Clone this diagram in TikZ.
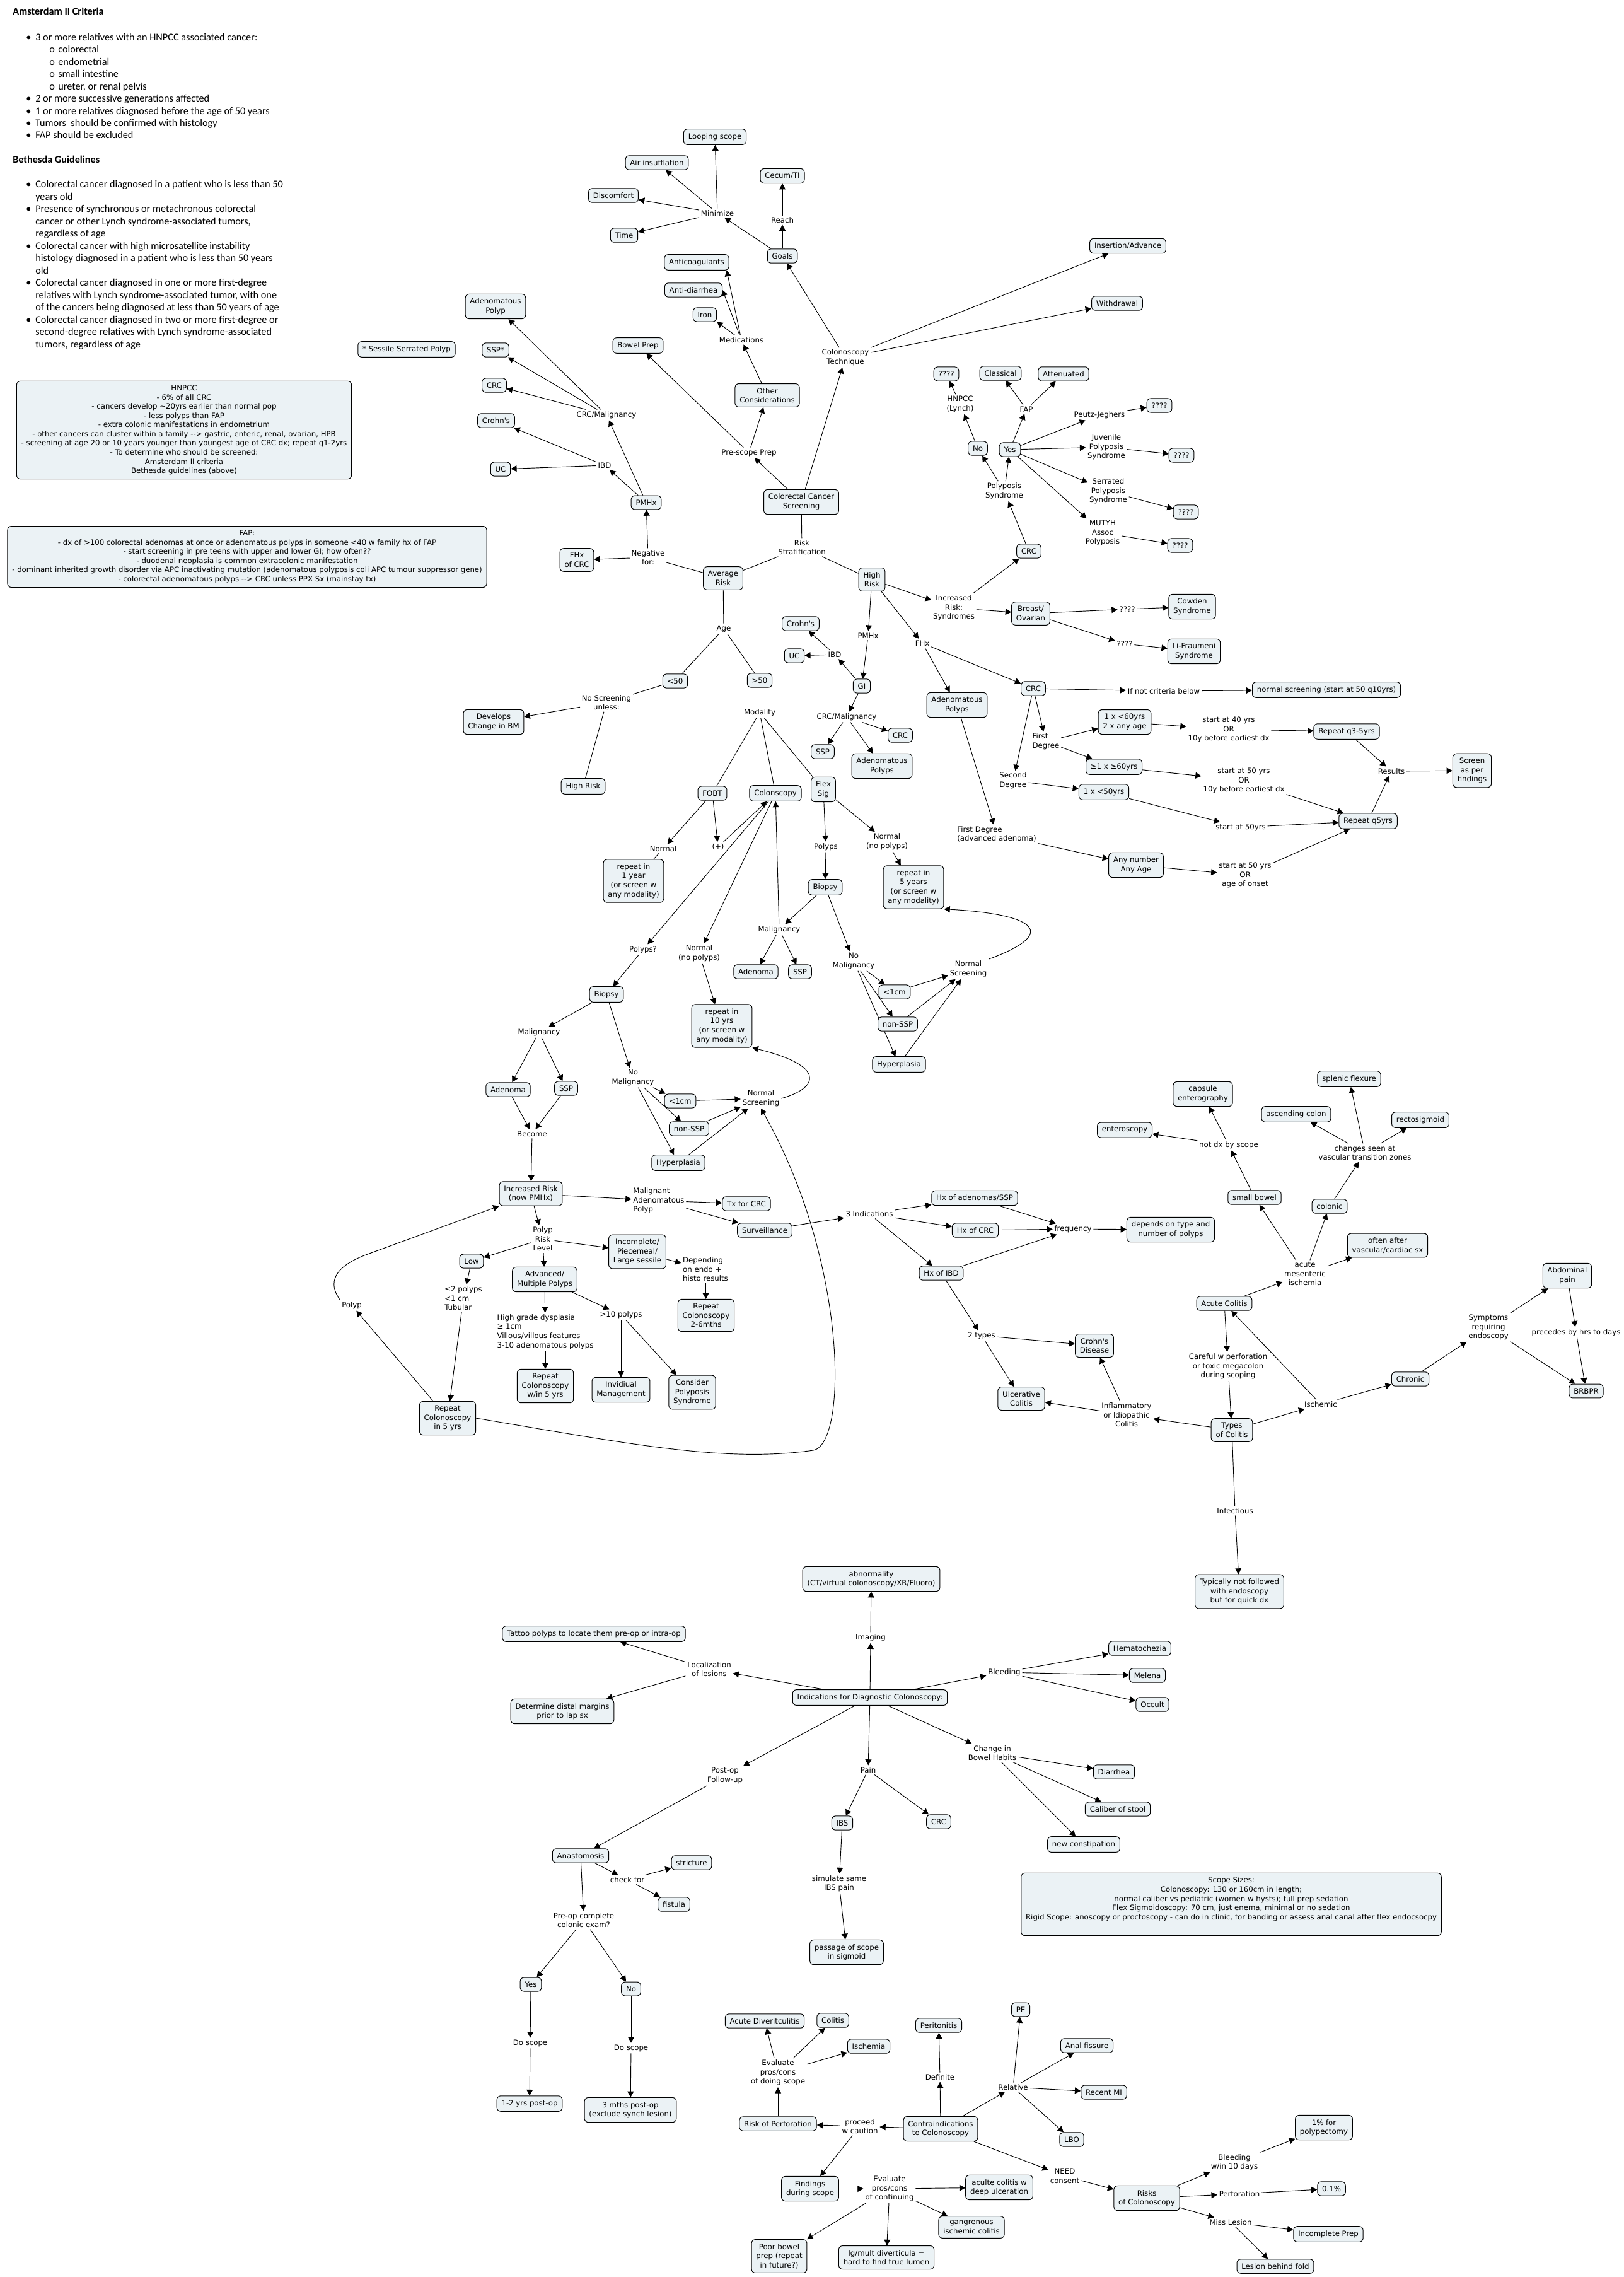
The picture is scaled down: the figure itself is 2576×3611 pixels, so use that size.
\documentclass[tikz,border=0pt]{standalone}
\usepackage{fontspec}
\usepackage{xcolor}
\usetikzlibrary{arrows.meta,positioning,backgrounds}
\newfontfamily\mapfont{DejaVu Sans}
\newfontfamily\docfont{Carlito}
\newcommand{\mapsize}{\fontsize{8.8pt}{10.9pt}\selectfont}
\newcommand{\docsize}{\fontsize{12.2pt}{14.6pt}\selectfont}
\newcommand{\blt}{\hspace*{15.75pt}\makebox[11.25pt][l]{\textbullet}}
\newcommand{\sblt}{\hspace*{43.5pt}\makebox[10.5pt][l]{o}}
\newcommand{\cnt}{\hspace*{27pt}}
\definecolor{cmapfill}{RGB}{235,242,245}
\tikzset{
  concept/.style={draw, line width=0.75pt, rounded corners=4.5pt, fill=cmapfill, align=center, inner xsep=5.5pt, inner ysep=5pt, font=\mapfont\mapsize},
  lbl/.style={align=center, inner sep=2pt, font=\mapfont\mapsize},
  lbll/.style={lbl, align=left},
  arr/.style={line width=0.7pt, -{Triangle[length=7pt,width=7.5pt]}},
  ln/.style={line width=0.7pt},
  doc/.style={align=left, inner sep=0pt, font=\docfont\docsize}
}
\begin{document}
\begin{tikzpicture}[x=0.75pt, y=-0.75pt]
    \useasboundingbox (0,0) rectangle (2576,3611);

    \node[doc, anchor=north west] (crit) at (20,12) {%
    \textbf{Amsterdam II Criteria}\\[15.8pt]
    \blt 3 or more relatives with an HNPCC associated cancer:\\
    \sblt colorectal\\
    \sblt endometrial\\
    \sblt small intestine\\
    \sblt ureter, or renal pelvis\\
    \blt 2 or more successive generations affected\\
    \blt 1 or more relatives diagnosed before the age of 50 years\\
    \blt Tumors\ \ should be confirmed with histology\\
    \blt FAP should be excluded\\[14.65pt]
    \textbf{Bethesda Guidelines}\\[14.65pt]
    \blt Colorectal cancer diagnosed in a patient who is less than 50\\
    \cnt years old\\
    \blt Presence of synchronous or metachronous colorectal\\
    \cnt cancer or other Lynch syndrome-associated tumors,\\
    \cnt regardless of age\\
    \blt Colorectal cancer with high microsatellite instability\\
    \cnt histology diagnosed in a patient who is less than 50 years\\
    \cnt old\\
    \blt Colorectal cancer diagnosed in one or more first-degree\\
    \cnt relatives with Lynch syndrome-associated tumor, with one\\
    \cnt of the cancers being diagnosed at less than 50 years of age\\
    \blt Colorectal cancer diagnosed in two or more first-degree or\\
    \cnt second-degree relatives with Lynch syndrome-associated\\
    \cnt tumors, regardless of age};

    \node[concept] (ssnote) at (645,554) {* Sessile Serrated Polyp};
    \node[concept] (hnpcc) at (292,682) {HNPCC\\- 6\% of all CRC\\- cancers develop \textasciitilde20yrs earlier than normal pop\\- less polyps than FAP\\- extra colonic manifestations in endometrium\\- other cancers can cluster within a family -{}-> gastric, enteric, renal, ovarian, HPB\\- screening at age 20 or 10 years younger than youngest age of CRC dx; repeat q1-2yrs\\- To determine who should be screened:\\Amsterdam II criteria\\Bethesda guidelines (above)};
    \node[concept] (fap) at (392,883) {FAP:\\- dx of >100 colorectal adenomas at once or adenomatous polyps in someone <40 w family hx of FAP\\- start screening in pre teens with upper and lower GI; how often??\\- duodenal neoplasia is common extracolonic manifestation\\- dominant inherited growth disorder via APC inactivating mutation (adenomatous polyposis coli APC tumour suppressor gene)\\- colorectal adenomatous polyps -{}-> CRC unless PPX Sx (mainstay tx)};
    \node[concept] (scope) at (1953,3020) {Scope Sizes:\\Colonoscopy: 130 or 160cm in length;\\normal caliber vs pediatric (women w hysts); full prep sedation\\Flex Sigmoidoscopy: 70 cm, just enema, minimal or no sedation\\Rigid Scope: anoscopy or proctoscopy - can do in clinic, for banding or assess anal canal after flex endocsocpy\\ \strut};

    \node[concept] (adpolyp1) at (786,486) {Adenomatous\\Polyp};
    \node[concept] (ssp1) at (786,555) {SSP*};
    \node[concept] (crc1) at (784,611) {CRC};
    \node[concept] (crohn1) at (787,667) {Crohn's};
    \node[concept] (uc1) at (794,744) {UC};
    \node[lbl] (crcmal1) at (962,658) {CRC/Malignancy};
    \node[lbl] (ibd1) at (959,738) {IBD};
    \node[concept] (pmhx) at (1025,797) {PMHx};
    \node[lbl] (neg) at (1028,884) {Negative\\for:};
    \node[concept] (fhxcrc) at (915,888) {FHx\\of CRC};

    \node[concept] (loop) at (1134,217) {Looping scope};
    \node[concept] (air) at (1042,258) {Air insufflation};
    \node[concept] (discomf) at (973,310) {Discomfort};
    \node[concept] (timebox) at (990,373) {Time};
    \node[lbl] (minim) at (1138,338) {Minimize};
    \node[concept] (cecum) at (1241,279) {Cecum/TI};
    \node[lbl] (reach) at (1241,349) {Reach};
    \node[concept] (goals) at (1241,406) {Goals};
    \node[concept] (insert) at (1789,390) {Insertion/Advance};
    \node[concept] (withdr) at (1772,481) {Withdrawal};
    \node[lbl] (tech) at (1341,567) {Colonoscopy\\Technique};
    \node[concept] (anticoag) at (1105,416) {Anticoagulants};
    \node[concept] (antidia) at (1100,460) {Anti-diarrhea};
    \node[concept] (iron) at (1118,499) {Iron};
    \node[lbl] (meds) at (1176,539) {Medications};
    \node[concept] (bowelprep) at (1012,548) {Bowel Prep};
    \node[concept] (other) at (1217,627) {Other\\Considerations};
    \node[lbl] (prescope) at (1188,718) {Pre-scope Prep};
    \node[concept] (crcs) at (1271,796) {Colorectal Cancer\\Screening};
    \node[lbl] (riskstrat) at (1272,868) {Risk\\Stratification};
    \node[concept] (avg) at (1147,917) {Average\\Risk};
    \node[concept] (high) at (1383,919) {High\\Risk};

    \node[concept] (q1) at (1501,593) {????};
    \node[lbl] (hnpcclbl) at (1523,641) {HNPCC\\(Lynch)};
    \node[concept] (classical) at (1587,592) {Classical};
    \node[concept] (attenuated) at (1687,593) {Attenuated};
    \node[lbl] (faplbl) at (1628,649) {FAP};
    \node[concept] (no1) at (1551,711) {No};
    \node[concept] (yes1) at (1602,713) {Yes};
    \node[lbl] (polysyn) at (1593,779) {Polyposis\\Syndrome};
    \node[concept] (crc4) at (1632,874) {CRC};
    \node[lbl] (pj) at (1744,658) {Peutz-Jeghers};
    \node[concept] (q4) at (1839,643) {????};
    \node[lbl] (jps) at (1755,709) {Juvenile\\Polyposis\\Syndrome};
    \node[concept] (q5) at (1874,722) {????};
    \node[lbl] (sps) at (1758,779) {Serrated\\Polyposis\\Syndrome};
    \node[concept] (q6) at (1881,812) {????};
    \node[lbl] (mutyh) at (1749,845) {MUTYH\\Assoc\\Polyposis};
    \node[concept] (q7) at (1872,865) {????};

    \node[lbl] (synd) at (1513,964) {Increased\\Risk:\\Syndromes};
    \node[concept] (breast) at (1635,973) {Breast/\\Ovarian};
    \node[lbl] (q2a) at (1788,966) {????};
    \node[concept] (cowden) at (1891,962) {Cowden\\Syndrome};
    \node[lbl] (q2b) at (1784,1021) {????};
    \node[concept] (lifr) at (1894,1033) {Li-Fraumeni\\Syndrome};
    \node[lbl] (hrpmhx) at (1377,1008) {PMHx};
    \node[concept] (crohn2) at (1270,989) {Crohn's};
    \node[concept] (uc2) at (1260,1040) {UC};
    \node[lbl] (ibd2) at (1324,1038) {IBD};
    \node[concept] (gi) at (1367,1088) {GI};
    \node[lbl] (crcmal2) at (1343,1137) {CRC/Malignancy};
    \node[concept] (ssp2) at (1305,1192) {SSP};
    \node[concept] (crc2) at (1428,1166) {CRC};
    \node[concept] (adp2) at (1399,1215) {Adenomatous\\Polyps};
    \node[lbl] (fhx) at (1463,1020) {FHx};
    \node[concept] (adp3) at (1518,1118) {Adenomatous\\Polyps};
    \node[concept] (crc3) at (1639,1092) {CRC};
    \node[lbl] (ifnot) at (1846,1096) {If not criteria below};
    \node[concept] (normscr) at (2104,1094) {normal screening (start at 50 q10yrs)};
    \node[lbll] (first) at (1659,1176) {First\\Degree};
    \node[concept] (lt60) at (1784,1145) {1 x <60yrs\\2 x any age};
    \node[lbl] (start40) at (1949,1157) {start at 40 yrs\\OR\\10y before earliest dx};
    \node[concept] (rep35) at (2136,1160) {Repeat q3-5yrs};
    \node[concept] (ge60) at (1767,1216) {≥1 x ≥60yrs};
    \node[lbl] (start50a) at (1973,1238) {start at 50 yrs\\OR\\10y before earliest dx};
    \node[lbll] (second) at (1607,1238) {Second\\Degree};
    \node[concept] (lt50b) at (1751,1256) {1 x <50yrs};
    \node[lbl] (results) at (2207,1223) {Results};
    \node[concept] (screen) at (2335,1222) {Screen\\as per\\findings};
    \node[concept] (rep5y) at (2170,1302) {Repeat q5yrs};
    \node[lbl] (start50b) at (1968,1312) {start at 50yrs};
    \node[lbll] (firstadv) at (1581,1323) {First Degree\\(advanced adenoma)};
    \node[concept] (anynum) at (1802,1372) {Any number\\Any Age};
    \node[lbl] (start50c) at (1975,1388) {start at 50 yrs\\OR\\age of onset};

    \node[lbl] (age) at (1148,997) {Age};
    \node[concept] (lt50) at (1071,1080) {<50};
    \node[concept] (gt50) at (1205,1079) {>50};
    \node[lbl] (noscr) at (962,1114) {No Screening\\unless:};
    \node[concept] (devbm) at (783,1145) {Develops\\Change in BM};
    \node[concept] (hrisk) at (925,1247) {High Risk};
    \node[lbl] (modality) at (1205,1130) {Modality};
    \node[concept] (fobt) at (1130,1258) {FOBT};
    \node[concept] (colon) at (1230,1258) {Colonscopy};
    \node[concept] (flex) at (1306,1252) {Flex\\Sig};
    \node[lbl] (normfobt) at (1052,1346) {Normal};
    \node[lbl] (plus) at (1139,1343) {(+)};
    \node[concept] (rep1) at (1005,1397) {repeat in\\1 year\\(or screen w\\any modality)};
    \node[lbl] (polypsf) at (1310,1343) {Polyps};
    \node[lbl] (normflex) at (1407,1335) {Normal\\(no polyps)};
    \node[concept] (rep5) at (1449,1407) {repeat in\\5 years\\(or screen w\\any modality)};
    \node[concept] (biopsyf) at (1309,1407) {Biopsy};
    \node[lbl] (malf) at (1236,1474) {Malignancy};
    \node[concept] (adenf) at (1199,1541) {Adenoma};
    \node[concept] (sspf) at (1269,1541) {SSP};
    \node[lbl] (nomalf) at (1354,1524) {No\\Malignancy};
    \node[concept] (lt1f) at (1419,1573) {<1cm};
    \node[concept] (nonsspf) at (1424,1624) {non-SSP};
    \node[concept] (hyperf) at (1426,1688) {Hyperplasia};
    \node[lbl] (nsf) at (1536,1537) {Normal\\Screening};
    \node[lbl] (polypsq) at (1020,1506) {Polyps?};
    \node[lbl] (normcol) at (1109,1512) {Normal\\(no polyps)};
    \node[concept] (rep10) at (1145,1627) {repeat in\\10 yrs\\(or screen w\\any modality)};
    \node[concept] (biopsyc) at (962,1577) {Biopsy};
    \node[lbl] (malc) at (855,1637) {Malignancy};
    \node[lbl] (nomalc) at (1004,1709) {No\\Malignancy};
    \node[concept] (adenc) at (806,1728) {Adenoma};
    \node[concept] (sspc) at (898,1726) {SSP};
    \node[lbl] (become) at (844,1798) {Become};
    \node[concept] (lt1c) at (1079,1746) {<1cm};
    \node[concept] (nonsspc) at (1093,1790) {non-SSP};
    \node[concept] (hyperc) at (1076,1844) {Hyperplasia};
    \node[lbl] (nsc) at (1207,1742) {Normal\\Screening};

    \node[concept] (incr) at (842,1893) {Increased Risk\\(now PMHx)};
    \node[lbll] (map) at (1045,1904) {Malignant\\Adenomatous\\Polyp};
    \node[concept] (txcrc) at (1184,1909) {Tx for CRC};
    \node[concept] (surv) at (1213,1951) {Surveillance};
    \node[lbl] (threeind) at (1379,1925) {3 Indications};
    \node[lbl] (prl) at (861,1965) {Polyp\\Risk\\Level};
    \node[concept] (low) at (748,2000) {Low};
    \node[concept] (adv) at (864,2029) {Advanced/\\Multiple Polyps};
    \node[concept] (incomp) at (1011,1985) {Incomplete/\\Piecemeal/\\Large sessile};
    \node[lbll] (depend) at (1119,2013) {Depending\\on endo +\\histo results};
    \node[concept] (rc26) at (1120,2086) {Repeat\\Colonoscopy\\2-6mths};
    \node[lbll] (le2) at (735,2059) {≤2 polyps\\<1 cm\\Tubular};
    \node[lbll] (hgd) at (865,2112) {High grade dysplasia\\≥ 1cm\\Villous/villous features\\3-10 adenomatous polyps};
    \node[lbl] (gt10) at (985,2085) {>10 polyps};
    \node[concept] (rcw5) at (865,2198) {Repeat\\Colonoscopy\\w/in 5 yrs};
    \node[concept] (indiv) at (985,2204) {Invidiual\\Management};
    \node[concept] (consider) at (1098,2208) {Consider\\Polyposis\\Syndrome};
    \node[concept] (rc5) at (710,2249) {Repeat\\Colonoscopy\\in 5 yrs};
    \node[lbl] (polyplbl) at (558,2070) {Polyp};

    \node[concept] (hxad) at (1546,1900) {Hx of adenomas/SSP};
    \node[concept] (hxcrc) at (1547,1951) {Hx of CRC};
    \node[concept] (hxibd) at (1493,2019) {Hx of IBD};
    \node[lbl] (freq) at (1702,1949) {frequency};
    \node[concept] (depends) at (1857,1950) {depends on type and\\number of polyps};
    \node[lbl] (twotypes) at (1557,2118) {2 types};
    \node[concept] (crohnd) at (1736,2134) {Crohn's\\Disease};
    \node[concept] (ucol) at (1620,2218) {Ulcerative\\Colitis};
    \node[lbl] (inflam) at (1787,2244) {Inflammatory\\or Idiopathic\\Colitis};
    \node[concept] (types) at (1954,2268) {Types\\of Colitis};
    \node[lbl] (infect) at (1959,2396) {Infectious};
    \node[concept] (typically) at (1966,2524) {Typically not followed\\with endoscopy\\but for quick dx};
    \node[lbl] (careful) at (1948,2167) {Careful w perforation\\or toxic megacolon\\during scoping};
    \node[concept] (acute) at (1942,2067) {Acute Colitis};
    \node[lbl] (ischemic) at (2095,2227) {Ischemic};
    \node[concept] (chronic) at (2237,2187) {Chronic};
    \node[lbl] (symptoms) at (2361,2105) {Symptoms\\requiring\\endoscopy};
    \node[concept] (abdpain) at (2486,2023) {Abdominal\\pain};
    \node[lbl] (precedes) at (2500,2113) {precedes by hrs to days};
    \node[concept] (brbpr) at (2516,2206) {BRBPR};
    \node[lbl] (ami) at (2070,2020) {acute\\mesenteric\\ischemia};
    \node[concept] (often) at (2201,1975) {often after\\vascular/cardiac sx};
    \node[concept] (smallb) at (1990,1899) {small bowel};
    \node[concept] (colonic) at (2109,1913) {colonic};
    \node[lbl] (notdx) at (1949,1816) {not dx by scope};
    \node[concept] (entero) at (1784,1792) {enteroscopy};
    \node[concept] (capsule) at (1908,1735) {capsule\\enterography};
    \node[lbl] (changes) at (2165,1828) {changes seen at\\vascular transition zones};
    \node[concept] (ascend) at (2056,1767) {ascending colon};
    \node[concept] (splenic) at (2140,1711) {splenic flexure};
    \node[concept] (rectosig) at (2253,1776) {rectosigmoid};

    \node[concept] (abnorm) at (1382,2504) {abnormality\\(CT/virtual colonoscopy/XR/Fluoro)};
    \node[lbl] (imaging) at (1381,2597) {Imaging};
    \node[concept] (indic) at (1380,2692) {Indications for Diagnostic Colonoscopy:};
    \node[concept] (tattoo) at (942,2591) {Tattoo polyps to locate them pre-op or intra-op};
    \node[lbl] (local) at (1125,2647) {Localization\\of lesions};
    \node[concept] (determine) at (892,2714) {Determine distal margins\\prior to lap sx};
    \node[lbl] (bleeding) at (1593,2652) {Bleeding};
    \node[concept] (hemat) at (1808,2614) {Hematochezia};
    \node[concept] (melena) at (1820,2657) {Melena};
    \node[concept] (occult) at (1828,2703) {Occult};
    \node[lbl] (change) at (1574,2780) {Change in\\Bowel Habits};
    \node[concept] (diarrhea) at (1767,2810) {Diarrhea};
    \node[concept] (caliber) at (1773,2869) {Caliber of stool};
    \node[concept] (newcon) at (1719,2925) {new constipation};
    \node[lbl] (pain) at (1377,2807) {Pain};
    \node[concept] (ibs) at (1336,2891) {IBS};
    \node[concept] (crcpain) at (1489,2889) {CRC};
    \node[lbl] (simulate) at (1331,2987) {simulate same\\IBS pain};
    \node[concept] (passage) at (1343,3096) {passage of scope\\in sigmoid};
    \node[lbl] (postop) at (1150,2816) {Post-op\\Follow-up};
    \node[concept] (anast) at (921,2943) {Anastomosis};
    \node[lbl] (checkfor) at (995,2981) {check for};
    \node[concept] (stricture) at (1097,2954) {stricture};
    \node[concept] (fistula) at (1069,3020) {fistula};
    \node[lbl] (preop) at (926,3045) {Pre-op complete\\colonic exam?};
    \node[concept] (yes2) at (842,3147) {Yes};
    \node[concept] (no2) at (1001,3154) {No};
    \node[lbl] (doscope1) at (841,3240) {Do scope};
    \node[lbl] (doscope2) at (1001,3248) {Do scope};
    \node[concept] (post12) at (840,3336) {1-2 yrs post-op};
    \node[concept] (mths3) at (1000,3346) {3 mths post-op\\(exclude synch lesion)};

    \node[concept] (acutediv) at (1213,3205) {Acute Diveritculitis};
    \node[concept] (colitis) at (1321,3204) {Colitis};
    \node[concept] (ischemia) at (1378,3245) {Ischemia};
    \node[lbl] (evaldoing) at (1234,3287) {Evaluate\\pros/cons\\of doing scope};
    \node[concept] (peritonitis) at (1489,3212) {Peritonitis};
    \node[lbl] (definite) at (1491,3294) {Definite};
    \node[concept] (pe) at (1619,3187) {PE};
    \node[concept] (analf) at (1724,3244) {Anal fissure};
    \node[lbl] (relative) at (1607,3310) {Relative};
    \node[concept] (recentmi) at (1751,3318) {Recent MI};
    \node[concept] (lbo) at (1700,3393) {LBO};
    \node[concept] (contra) at (1492,3376) {Contraindications\\to Colonoscopy};
    \node[lbl] (proceed) at (1364,3372) {proceed\\w caution};
    \node[concept] (riskperf) at (1234,3368) {Risk of Perforation};
    \node[concept] (findings) at (1285,3471) {Findings\\during scope};
    \node[lbl] (evalcont) at (1411,3471) {Evaluate\\pros/cons\\of continuing};
    \node[concept] (aculte) at (1585,3469) {aculte colitis w\\deep ulceration};
    \node[concept] (gangr) at (1541,3532) {gangrenous\\ischemic colitis};
    \node[concept] (poorprep) at (1236,3578) {Poor bowel\\prep (repeat\\in future?)};
    \node[concept] (lgmult) at (1406,3580) {lg/mult diverticula =\\hard to find true lumen};
    \node[lbl] (consent) at (1689,3451) {NEED\\consent};
    \node[concept] (risks) at (1819,3486) {Risks\\of Colonoscopy};
    \node[lbl] (bleed10) at (1958,3429) {Bleeding\\w/in 10 days};
    \node[concept] (pct1) at (2100,3374) {1\% for\\polypectomy};
    \node[lbl] (perf) at (1966,3479) {Perforation};
    \node[concept] (pct01) at (2112,3471) {0.1\%};
    \node[lbl] (miss) at (1952,3524) {Miss Lesion};
    \node[concept] (incprep) at (2107,3543) {Incomplete Prep};
    \node[concept] (behind) at (2023,3594) {Lesion behind fold};

    \begin{scope}[on background layer]
    \draw[ln] (avg) -- (neg);
    \draw[arr] (neg) -- (fhxcrc);
    \draw[arr] (neg) -- (pmhx);
    \draw[arr] (pmhx) -- (ibd1);
    \draw[arr] (pmhx) -- (crcmal1);
    \foreach \t in {uc1,crohn1}
        \draw[arr] (ibd1) -- (\t);
    \foreach \t in {crc1,ssp1,adpolyp1}
        \draw[arr] (crcmal1) -- (\t);

    \draw[arr] (crcs) -- (prescope);
    \draw[arr] (crcs) -- (tech);
    \draw[arr] (prescope) -- (bowelprep);
    \draw[arr] (prescope) -- (other);
    \draw[arr] (other) -- (meds);
    \draw[arr] (meds) -- (iron.south east);
    \draw[arr] (meds) -- (antidia.east);
    \draw[arr] (meds) -- ([xshift=-3pt]anticoag.south east);
    \foreach \t in {goals,insert,withdr}
        \draw[arr] (tech) -- (\t);
    \draw[arr] (goals) -- (minim);
    \draw[arr] (goals) -- (reach);
    \draw[arr] (reach) -- (cecum);
    \foreach \t in {loop,air,discomf,timebox}
        \draw[arr] (minim) -- (\t);
    \draw[ln] (crcs) -- (riskstrat);
    \draw[ln] (riskstrat) -- (avg);
    \draw[ln] (riskstrat) -- (high);

    \draw[arr] (high) -- (hrpmhx);
    \draw[arr] (hrpmhx) -- (gi);
    \draw[arr] (gi) -- (ibd2);
    \draw[arr] (ibd2) -- (uc2);
    \draw[arr] (ibd2) -- (crohn2);
    \draw[arr] (gi) -- (crcmal2);
    \foreach \t in {ssp2,adp2,crc2}
        \draw[arr] (crcmal2) -- (\t);
    \draw[arr] (high) -- (fhx);
    \draw[arr] (fhx) -- (adp3);
    \draw[arr] (fhx) -- (crc3);
    \draw[arr] (high) -- (synd);
    \draw[arr] (synd) -- (breast);
    \draw[arr] (synd) -- (crc4);
    \draw[arr] (breast) -- (q2a);
    \draw[arr] (q2a) -- (cowden);
    \draw[arr] (breast) -- (q2b);
    \draw[arr] (q2b) -- (lifr);
    \draw[arr] (crc4) -- (polysyn);
    \draw[arr] (polysyn) -- (no1);
    \draw[arr] (polysyn) -- (yes1);
    \draw[arr] (no1) -- (hnpcclbl);
    \draw[arr] (hnpcclbl) -- (q1);
    \draw[arr] (yes1) -- (faplbl);
    \draw[arr] (faplbl) -- (classical);
    \draw[arr] (faplbl) -- (attenuated);
    \foreach \l/\q in {pj/q4,jps/q5,sps/q6,mutyh/q7} {
        \draw[arr] (yes1) -- (\l);
        \draw[arr] (\l) -- (\q);
    }

    \draw[arr] (crc3) -- (ifnot);
    \draw[arr] (ifnot) -- (normscr);
    \draw[arr] (crc3) -- (first);
    \draw[arr] (crc3) -- (second);
    \draw[arr] (first) -- (lt60);
    \draw[arr] (first) -- (ge60);
    \draw[arr] (lt60) -- (start40);
    \draw[arr] (start40) -- (rep35);
    \draw[arr] (rep35) -- (results);
    \draw[arr] (ge60) -- (start50a);
    \draw[arr] (start50a) -- (rep5y);
    \draw[arr] (second) -- (lt50b);
    \draw[arr] (lt50b) -- (start50b);
    \draw[arr] (start50b) -- (rep5y);
    \draw[arr] (adp3) -- (firstadv);
    \draw[arr] (firstadv) -- (anynum);
    \draw[arr] (anynum) -- (start50c);
    \draw[arr] (start50c) -- (rep5y);
    \draw[arr] (rep5y) -- (results);
    \draw[arr] (results) -- (screen);

    \draw[ln] (avg) -- (age);
    \draw[ln] (age) -- (lt50);
    \draw[ln] (age) -- (gt50);
    \draw[ln] (lt50) -- (noscr);
    \draw[arr] (noscr) -- (devbm);
    \draw[ln] (noscr) -- (hrisk);
    \draw[ln] (gt50) -- (modality);
    \foreach \t in {fobt,colon,flex}
        \draw[ln] (modality) -- (\t);
    \draw[arr] (fobt) -- (normfobt);
    \draw[ln] (normfobt) -- (rep1);
    \draw[arr] (fobt) -- (plus);
    \draw[arr] (plus) -- (colon);
    \draw[arr] (flex) -- (polypsf);
    \draw[arr] (polypsf) -- (biopsyf);
    \draw[arr] (flex) -- (normflex);
    \draw[arr] (normflex) -- (rep5);
    \draw[arr] (biopsyf) -- (malf);
    \draw[arr] (biopsyf) -- (nomalf);
    \draw[arr] (malf) -- (adenf);
    \draw[arr] (malf) -- (sspf);
    \draw[arr] (malf) -- (colon);
    \foreach \t in {lt1f,nonsspf,hyperf} {
        \draw[arr] (nomalf) -- (\t);
        \draw[arr] (\t) -- (nsf);
    }
    \draw[arr] (nsf.north east) .. controls (1680,1480) and (1645,1450) .. (rep5.south east);
    \draw[arr] (colon) -- (polypsq);
    \draw[arr] (colon) -- (normcol);
    \draw[arr] (normcol) -- (rep10);
    \draw[arr] (polypsq) -- (biopsyc);
    \draw[arr] (biopsyc) -- (malc);
    \draw[arr] (biopsyc) -- (nomalc);
    \draw[arr] (malc) -- (adenc);
    \draw[arr] (malc) -- (sspc);
    \draw[arr] (adenc) -- (become);
    \draw[arr] (sspc) -- (become);
    \draw[arr] (become) -- (incr);
    \foreach \t in {lt1c,nonsspc,hyperc} {
        \draw[arr] (nomalc) -- (\t);
        \draw[arr] (\t) -- (nsc);
    }
    \draw[arr] (nsc.east) .. controls (1300,1725) and (1310,1690) .. (rep10.south east);

    \draw[arr] (incr) -- (map);
    \draw[arr] (map) -- (txcrc);
    \draw[arr] (map) -- (surv);
    \draw[arr] (surv) -- (threeind);
    \foreach \t in {hxad,hxcrc,hxibd} {
        \draw[arr] (threeind) -- (\t);
        \draw[arr] (\t) -- (freq);
    }
    \draw[arr] (freq) -- (depends);
    \draw[arr] (incr) -- (prl);
    \foreach \t in {low,adv,incomp}
        \draw[arr] (prl) -- (\t);
    \draw[arr] (incomp) -- (depend);
    \draw[arr] (depend) -- (rc26);
    \draw[arr] (low) -- (le2);
    \draw[arr] (le2) -- (rc5);
    \draw[arr] (adv) -- (hgd);
    \draw[arr] (hgd) -- (rcw5);
    \draw[arr] (adv) -- (gt10);
    \draw[arr] (gt10) -- (indiv);
    \draw[arr] (gt10) -- (consider);
    \draw[arr] (rc5) -- (polyplbl);
    \draw[arr] (polyplbl.north west) .. controls (520,2035) and (528,2009) .. (583,1989) -- (incr.south west);
    \draw[arr] (rc5.east) .. controls (1000,2290) and (1150,2320) .. (1290,2300) .. controls (1345,2290) and (1345,2000) .. (nsc.south);

    \draw[arr] (hxibd) -- (twotypes);
    \draw[arr] (twotypes) -- (crohnd);
    \draw[arr] (twotypes) -- (ucol);
    \draw[arr] (types) -- (inflam);
    \draw[arr] (inflam) -- (ucol);
    \draw[arr] (inflam) -- (crohnd);
    \draw[ln] (types) -- (infect);
    \draw[arr] (infect) -- (typically);
    \draw[arr] (types) -- (ischemic);
    \draw[arr] (ischemic) -- (acute);
    \draw[arr] (ischemic) -- (chronic);
    \draw[arr] (acute) -- (careful);
    \draw[arr] (careful) -- (types);
    \draw[arr] (acute) -- (ami);
    \foreach \t in {often,smallb,colonic}
        \draw[arr] (ami) -- (\t);
    \draw[arr] (smallb) -- (notdx);
    \draw[arr] (notdx) -- (entero);
    \draw[arr] (notdx) -- (capsule);
    \draw[arr] (colonic) -- (changes);
    \foreach \t in {ascend,splenic,rectosig}
        \draw[arr] (changes) -- (\t);
    \draw[arr] (chronic) -- (symptoms);
    \draw[arr] (symptoms) -- (abdpain);
    \draw[arr] (symptoms) -- (brbpr);
    \draw[arr] (abdpain) -- (precedes);
    \draw[arr] (precedes) -- (brbpr);

    \foreach \t in {imaging,local,bleeding,change,pain,postop}
        \draw[arr] (indic) -- (\t);
    \draw[arr] (imaging) -- (abnorm);
    \draw[arr] (local) -- (tattoo);
    \draw[arr] (local) -- (determine);
    \foreach \t in {hemat,melena,occult}
        \draw[arr] (bleeding) -- (\t);
    \foreach \t in {diarrhea,caliber,newcon}
        \draw[arr] (change) -- (\t);
    \draw[arr] (pain) -- (ibs);
    \draw[arr] (pain) -- (crcpain);
    \draw[arr] (ibs) -- (simulate);
    \draw[arr] (simulate) -- (passage);
    \draw[arr] (postop) -- (anast);
    \draw[arr] (anast) -- (checkfor);
    \draw[arr] (checkfor) -- (stricture);
    \draw[arr] (checkfor) -- (fistula);
    \draw[arr] (anast) -- (preop);
    \draw[arr] (preop) -- (yes2);
    \draw[arr] (preop) -- (no2);
    \draw[arr] (yes2) -- (doscope1);
    \draw[arr] (doscope1) -- (post12);
    \draw[arr] (no2) -- (doscope2);
    \draw[arr] (doscope2) -- (mths3);

    \draw[arr] (contra) -- (definite);
    \draw[arr] (definite) -- (peritonitis);
    \draw[arr] (contra) -- (relative);
    \foreach \t in {pe,analf,recentmi,lbo}
        \draw[arr] (relative) -- (\t);
    \draw[arr] (contra) -- (proceed);
    \draw[arr] (proceed) -- (riskperf);
    \draw[arr] (proceed) -- (findings);
    \draw[arr] (riskperf) -- (evaldoing);
    \foreach \t in {acutediv,colitis,ischemia}
        \draw[arr] (evaldoing) -- (\t);
    \draw[arr] (findings) -- (evalcont);
    \foreach \t in {aculte,gangr,poorprep,lgmult}
        \draw[arr] (evalcont) -- (\t);
    \draw[arr] (contra) -- (consent);
    \draw[arr] (consent) -- (risks);
    \draw[arr] (risks) -- (bleed10);
    \draw[arr] (bleed10) -- (pct1);
    \draw[arr] (risks) -- (perf);
    \draw[arr] (perf) -- (pct01);
    \draw[arr] (risks) -- (miss);
    \draw[arr] (miss) -- (incprep);
    \draw[arr] (miss) -- (behind);
    \end{scope}
\end{tikzpicture}
\end{document}
